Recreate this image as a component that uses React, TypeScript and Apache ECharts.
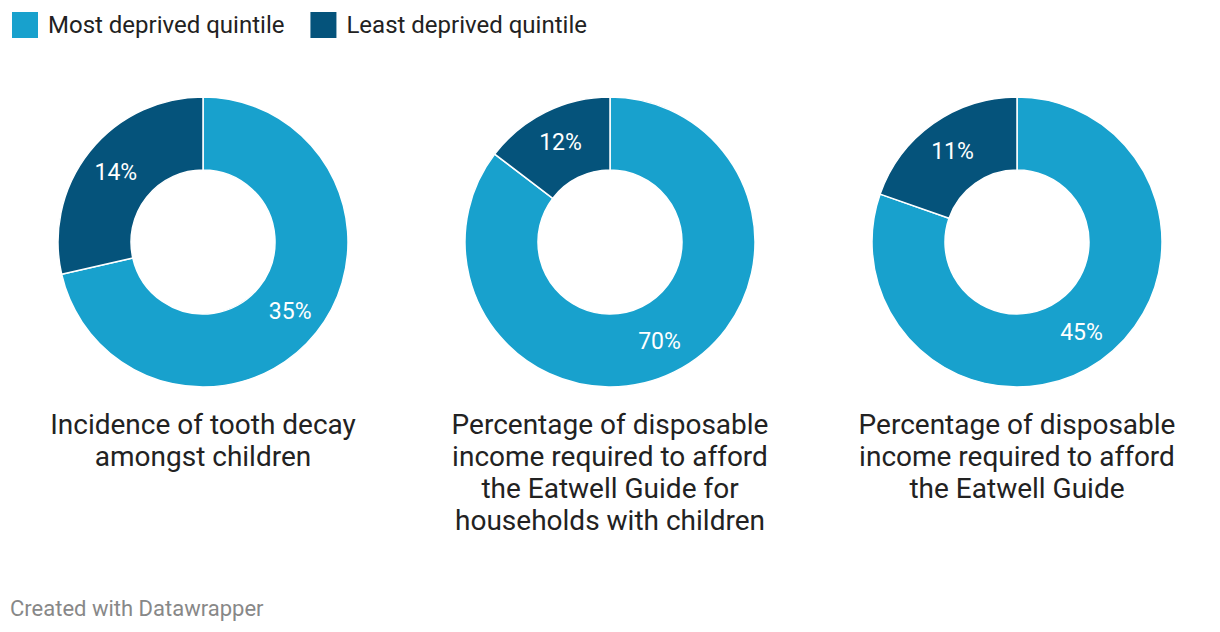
import React, { useEffect, useRef } from "react";
import * as echarts from "echarts";

const categories = ["Most deprived quintile", "Least deprived quintile"];
const mostDeprived = [35, 70, 45];
const leastDeprived = [14, 12, 11];
const chartTitles = [
  "Incidence of tooth decay\namongst children",
  "Percentage of disposable\nincome required to afford\nthe Eatwell Guide for\nhouseholds with children",
  "Percentage of disposable\nincome required to afford\nthe Eatwell Guide",
];
const colors = ["#18a1cd", "#05537b"];
const centersX = [203, 610, 1017];

export default function App() {
  const ref = useRef<HTMLDivElement>(null);
  useEffect(() => {
    document.body.style.margin = "0";
    if (!ref.current) return;
    const chart = echarts.init(ref.current, null, { renderer: "svg" });
    const font = "Roboto, 'Noto Sans', sans-serif";
    chart.setOption({
      animation: false,
      color: colors,
      textStyle: { fontFamily: font },
      legend: {
        left: 5,
        top: 5,
        icon: "rect",
        itemWidth: 28,
        itemHeight: 28,
        itemGap: 24,
        selectedMode: false,
        data: categories,
        textStyle: { fontSize: 24, color: "#222", fontFamily: font, padding: [0, 0, 0, 4] },
      },
      title: [
        ...chartTitles.map((t, i) => ({
          text: t,
          left: centersX[i] - 5,
          top: 403,
          textAlign: "center",
          textStyle: {
            fontSize: 28,
            fontWeight: "normal",
            color: "#222",
            lineHeight: 32,
            fontFamily: font,
            align: "center",
          },
        })),
        {
          text: "Created with Datawrapper",
          left: 5,
          top: 591,
          textStyle: { fontSize: 22, lineHeight: 24, fontWeight: "normal", color: "#888", fontFamily: font },
        },
      ],
      series: mostDeprived.map((v, i) => ({
        type: "pie",
        center: [centersX[i], 242],
        radius: [72, 145],
        startAngle: 90,
        clockwise: true,
        avoidLabelOverlap: false,
        itemStyle: { borderColor: "#fff", borderWidth: 1.5 },
        label: {
          show: true,
          position: "inside",
          formatter: "{c}%",
          color: "#fff",
          fontSize: 23,
          fontFamily: font,
        },
        labelLine: { show: false },
        emphasis: { disabled: true },
        data: [
          { name: categories[0], value: v },
          { name: categories[1], value: leastDeprived[i] },
        ],
      })),
    });
    return () => chart.dispose();
  }, []);
  return <div ref={ref} style={{ width: 1220, height: 632 }} />;
}
